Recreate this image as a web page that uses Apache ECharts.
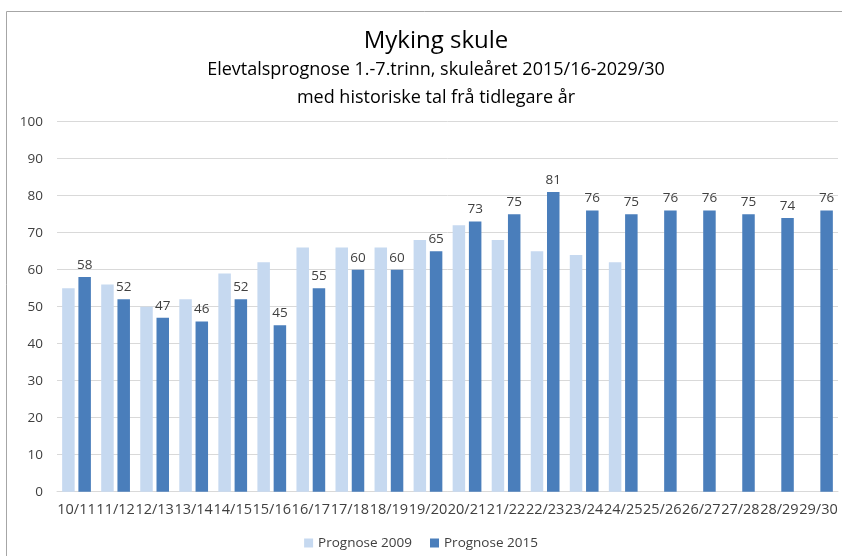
<!DOCTYPE html>
<html>
<head>
<meta charset="utf-8">
<script src="https://cdn.jsdelivr.net/npm/echarts@6/dist/echarts.min.js"></script>
<style>html,body{margin:0;padding:0;background:#fff}#c{width:842px;height:556px}</style>
</head>
<body>
<div id="c"></div>
<script>
const categories = ['10/11','11/12','12/13','13/14','14/15','15/16','16/17','17/18','18/19','19/20','20/21','21/22','22/23','23/24','24/25','25/26','26/27','27/28','28/29','29/30'];
const prognose2009 = [55,56,50,52,59,62,66,66,66,68,72,68,65,64,62,null,null,null,null,null];
const prognose2015 = [58,52,47,46,52,45,55,60,60,65,73,75,81,76,75,76,76,75,74,76];
const yTicks = {min:0, max:100, interval:10};

const FONT = "'Open Sans', 'Noto Sans', sans-serif";
const chart = echarts.init(document.getElementById('c'), null, {renderer:'canvas'});
chart.setOption({
  backgroundColor:'#fff',
  animation:false,
  textStyle:{fontFamily:FONT},
  graphic:[{type:'rect', z:-1, shape:{x:6.5,y:11.5,width:900,height:700}, style:{fill:'none', stroke:'#a6a6a6', lineWidth:1}}],
  title:[
    {text:'Myking skule', left:431, textAlign:'center', top:24, textStyle:{fontFamily:FONT,fontSize:24,fontWeight:'normal',color:'#000'}},
    {text:'Elevtalsprognose 1.-7.trinn, skuleåret 2015/16-2029/30', left:431, textAlign:'center', top:56, textStyle:{fontFamily:FONT,fontSize:18,fontWeight:'normal',color:'#000'}},
    {text:'med historiske tal frå tidlegare år', left:431, textAlign:'center', top:84, textStyle:{fontFamily:FONT,fontSize:18,fontWeight:'normal',color:'#000'}}
  ],
  legend:{
    bottom:1, left:'center', itemWidth:9, itemHeight:9, itemGap:18, icon:'rect',
    textStyle:{fontFamily:FONT,fontSize:13.5,color:'#404040'},
    data:['Prognose 2009','Prognose 2015']
  },
  grid:{left:57, right:4, top:121.7, bottom:64.3, containLabel:false},
  xAxis:{
    type:'category', data:categories,
    axisLine:{show:true, lineStyle:{color:'#d9d9d9'}},
    axisTick:{show:false},
    axisLabel:{interval:0, fontFamily:FONT, fontSize:14.5, color:'#404040', margin:11}
  },
  yAxis:{
    type:'value', min:yTicks.min, max:yTicks.max, interval:yTicks.interval,
    axisLine:{show:false}, axisTick:{show:false},
    splitLine:{lineStyle:{color:'#d9d9d9'}},
    axisLabel:{fontFamily:FONT, fontSize:13.5, color:'#404040', margin:14}
  },
  series:[
    {name:'Prognose 2009', type:'bar', data:prognose2009, barWidth:12.5, barGap:'30%',
     itemStyle:{color:'#c6d9f0'}},
    {name:'Prognose 2015', type:'bar', data:prognose2015, barWidth:12.5, barGap:'30%',
     itemStyle:{color:'#4a7ebb'},
     label:{show:true, position:'top', distance:5, fontFamily:FONT, fontSize:13.5, color:'#404040'}}
  ]
});
</script>
</body>
</html>
